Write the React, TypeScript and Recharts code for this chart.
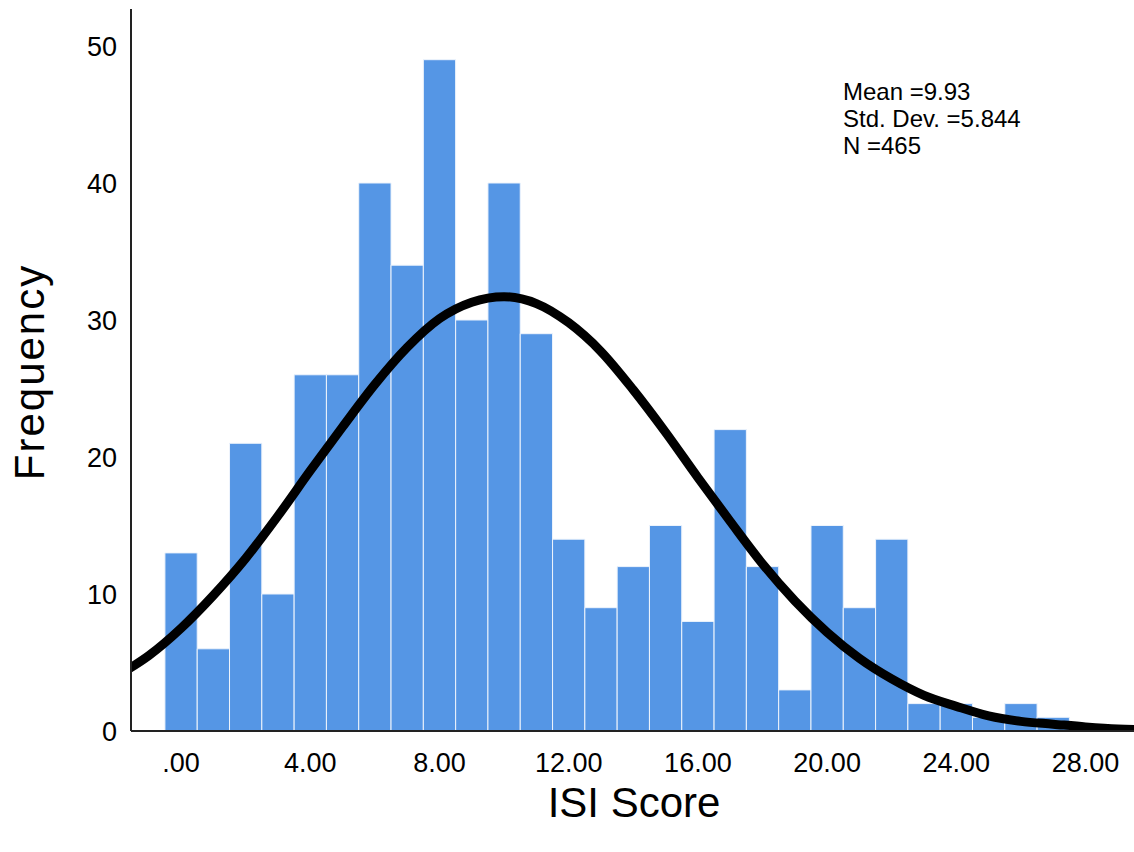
import { ComposedChart, Bar, Line, XAxis, YAxis } from 'recharts'

// histogram bins (ISI score) and their frequencies
const SCORES = [0, 1, 2, 3, 4, 5, 6, 7, 8, 9, 10, 11, 12, 13, 14, 15, 16, 17, 18, 19, 20, 21, 22, 23, 24, 25, 26, 27]
const COUNTS = [13, 6, 21, 10, 26, 26, 40, 34, 49, 30, 40, 29, 14, 9, 12, 15, 8, 22, 12, 3, 15, 9, 14, 2, 2, 1, 2, 1]

// normal curve (runs past both plot edges, clipped)
const CURVE_X = [-2, -1, 0, 1, 2, 3, 4, 5, 6, 7, 8, 9, 10, 11, 12, 13, 14, 15, 16, 17, 18, 19, 20, 21, 22, 23, 24, 25, 26, 27, 28, 29, 30]
const CURVE_Y = [4.0, 5.5, 7.5, 9.9, 12.6, 15.7, 19.0, 22.2, 25.3, 28.0, 30.1, 31.3, 31.7, 31.2, 29.8, 27.7, 24.9, 21.8, 18.5, 15.3, 12.2, 9.5, 7.2, 5.3, 3.8, 2.6, 1.8, 1.1, 0.7, 0.5, 0.3, 0.15, 0.09]

const X_TICKS = [0, 4, 8, 12, 16, 20, 24, 28]
const Y_TICKS = [0, 10, 20, 30, 40, 50]

const STATS = ['Mean =9.93', 'Std. Dev. =5.844', 'N =465']

const bins = SCORES.map((x, i) => ({ x, count: COUNTS[i] }))
const curve = CURVE_X.map((x, i) => ({ x, curve: CURVE_Y[i] }))

const FONT = '"Liberation Sans", Arial, sans-serif'
const tickStyle = { fill: '#000', fontSize: 27, fontFamily: FONT }

export default function App() {
  return (
    <div style={{ position: 'absolute', left: 0, top: 0, width: 1134, height: 852, background: '#fff', fontFamily: FONT }}>
      <ComposedChart width={1134} height={852} data={bins} margin={{ top: 9, right: 0, left: 0, bottom: 0 }}>
        <XAxis
          type="number"
          dataKey="x"
          domain={[-1.55, 29.5]}
          ticks={X_TICKS}
          allowDataOverflow
          height={121}
          tickLine={false}
          tickSize={0}
          tickMargin={22}
          axisLine={{ stroke: '#222', strokeWidth: 2 }}
          tick={tickStyle}
          tickFormatter={(v: number) => (v === 0 ? '.00' : v.toFixed(2))}
        />
        <YAxis
          type="number"
          domain={[0, 52.7]}
          ticks={Y_TICKS}
          allowDataOverflow
          width={131}
          tickLine={false}
          tickSize={0}
          tickMargin={14}
          axisLine={{ stroke: '#222', strokeWidth: 2 }}
          tick={tickStyle}
        />
        <Bar dataKey="count" fill="#5596e5" stroke="#eef4fc" strokeWidth={1} barSize={32.3} isAnimationActive={false} />
        <Line
          data={curve}
          dataKey="curve"
          type="monotone"
          stroke="#000"
          strokeWidth={9}
          dot={false}
          activeDot={false}
          isAnimationActive={false}
        />
      </ComposedChart>

      <div style={{ position: 'absolute', left: 843, top: 78, fontSize: 24, lineHeight: '27px', color: '#000' }}>
        {STATS.map(s => (
          <div key={s}>{s}</div>
        ))}
      </div>

      <div
        style={{
          position: 'absolute',
          left: 30,
          top: 372,
          fontSize: 42,
          letterSpacing: 2,
          color: '#000',
          transform: 'translate(-50%, -50%) rotate(-90deg)',
          whiteSpace: 'nowrap',
        }}
      >
        Frequency
      </div>
      <div
        style={{
          position: 'absolute',
          left: 634,
          top: 803,
          fontSize: 42,
          color: '#000',
          transform: 'translate(-50%, -50%)',
          whiteSpace: 'nowrap',
        }}
      >
        ISI Score
      </div>
    </div>
  )
}
